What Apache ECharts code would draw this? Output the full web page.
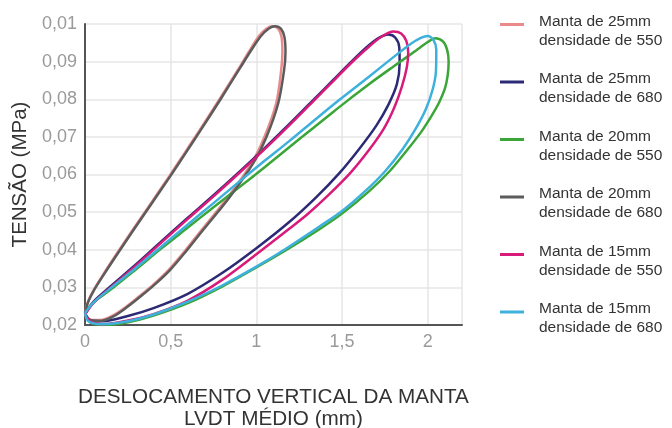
<!DOCTYPE html>
<html><head><meta charset="utf-8">
<script src="https://cdn.jsdelivr.net/npm/echarts@6/dist/echarts.min.js"></script>
<style>html,body{margin:0;padding:0;background:#fff}#c{width:672px;height:428px}</style>
</head><body><div id="c"></div>
<script>
const seriesNames = [
  'Manta de 25mm\ndensidade de 550',
  'Manta de 25mm\ndensidade de 680',
  'Manta de 20mm\ndensidade de 550',
  'Manta de 20mm\ndensidade de 680',
  'Manta de 15mm\ndensidade de 550',
  'Manta de 15mm\ndensidade de 680'
];
const xTickLabels = ['0', '0,5', '1', '1,5', '2'];
const yTickLabels = ['0,02', '0,03', '0,04', '0,05', '0,06', '0,07', '0,08', '0,09', '0,01'];

const manta25_550 = [[0,0.0235],[0.02,0.0265],[0.05,0.0293],[0.1,0.033],[0.18,0.0386],[0.28,0.0454],[0.39,0.0527],[0.494,0.0597],[0.58,0.0656],[0.669,0.0718],[0.785,0.08],[0.9,0.0884],[0.96,0.0929],[1.015,0.0968],[1.06,0.0988],[1.095,0.0994],[1.128,0.0987],[1.147,0.0965],[1.152,0.0925],[1.145,0.0878],[1.116,0.079],[1.048,0.0701],[0.972,0.063],[0.836,0.0541],[0.681,0.0453],[0.58,0.0395],[0.487,0.0346],[0.4,0.0308],[0.313,0.0275],[0.23,0.0245],[0.158,0.0224],[0.09,0.0213],[0.04,0.0213],[0.01,0.0222],[0,0.0235]];
const manta20_680 = [[0,0.0235],[0.022,0.0265],[0.053,0.0293],[0.104,0.033],[0.185,0.0386],[0.285,0.0454],[0.395,0.0527],[0.5,0.0597],[0.586,0.0656],[0.675,0.0718],[0.791,0.08],[0.906,0.0884],[0.968,0.0929],[1.027,0.0968],[1.073,0.0988],[1.11,0.0994],[1.144,0.0987],[1.164,0.0965],[1.17,0.0925],[1.162,0.0878],[1.128,0.079],[1.06,0.0701],[0.982,0.063],[0.846,0.0541],[0.69,0.0453],[0.588,0.0395],[0.496,0.0346],[0.408,0.0308],[0.322,0.0275],[0.238,0.0245],[0.166,0.0223],[0.095,0.0211],[0.045,0.0211],[0.012,0.022],[0,0.0235]];
const manta25_680 = [[0,0.023],[0.05,0.0262],[0.15,0.0303],[0.3,0.0362],[0.45,0.0424],[0.6,0.0485],[0.75,0.0545],[0.9,0.0607],[1.05,0.0671],[1.19,0.0733],[1.33,0.0797],[1.45,0.0852],[1.55,0.0898],[1.64,0.0937],[1.71,0.0962],[1.77,0.0972],[1.81,0.0964],[1.834,0.0938],[1.836,0.0895],[1.82,0.084],[1.77,0.0785],[1.7,0.073],[1.6,0.0668],[1.483,0.0603],[1.35,0.054],[1.19,0.0473],[1.0,0.0404],[0.8,0.0338],[0.6,0.0283],[0.4,0.0245],[0.25,0.0224],[0.1,0.021],[0.03,0.0213],[0,0.023]];
const manta15_550 = [[0,0.0228],[0.05,0.0259],[0.15,0.03],[0.3,0.0359],[0.45,0.0421],[0.6,0.0482],[0.75,0.0542],[0.9,0.0604],[1.05,0.0668],[1.19,0.073],[1.33,0.0794],[1.45,0.0849],[1.55,0.0895],[1.65,0.0937],[1.73,0.0966],[1.8,0.098],[1.845,0.0975],[1.875,0.0955],[1.886,0.0925],[1.878,0.0885],[1.85,0.0835],[1.805,0.0778],[1.744,0.0722],[1.657,0.0665],[1.55,0.0605],[1.42,0.0545],[1.3,0.0495],[1.19,0.0455],[1.0,0.0388],[0.8,0.032],[0.6,0.0265],[0.4,0.0229],[0.25,0.0212],[0.1,0.0202],[0.03,0.021],[0,0.0228]];
const manta15_680 = [[0,0.0232],[0.05,0.026],[0.15,0.0298],[0.3,0.0353],[0.45,0.041],[0.6,0.0467],[0.75,0.0524],[0.9,0.0581],[1.05,0.0637],[1.19,0.0688],[1.33,0.0741],[1.483,0.0798],[1.657,0.086],[1.8,0.0912],[1.9,0.0947],[1.96,0.0963],[2.0,0.0968],[2.033,0.0958],[2.05,0.0932],[2.048,0.0875],[2.03,0.0828],[1.99,0.0775],[1.93,0.0722],[1.85,0.0665],[1.75,0.0608],[1.638,0.0557],[1.5,0.0503],[1.366,0.0461],[1.17,0.0402],[1.0,0.0355],[0.8,0.0305],[0.6,0.0262],[0.4,0.0228],[0.25,0.021],[0.1,0.0202],[0.02,0.021],[0,0.0232]];
const manta20_550 = [[0,0.0232],[0.05,0.026],[0.15,0.0294],[0.3,0.0349],[0.45,0.0405],[0.6,0.0459],[0.75,0.0513],[0.9,0.0566],[1.05,0.062],[1.19,0.0672],[1.33,0.0723],[1.45,0.0767],[1.54,0.0799],[1.657,0.084],[1.8,0.0887],[1.93,0.0929],[2.0,0.0952],[2.045,0.0962],[2.09,0.0953],[2.113,0.0932],[2.122,0.09],[2.116,0.0862],[2.1,0.0828],[2.065,0.079],[2.025,0.0758],[1.96,0.0712],[1.88,0.0665],[1.78,0.061],[1.657,0.0555],[1.5,0.0496],[1.366,0.0454],[1.17,0.0398],[1.0,0.0353],[0.8,0.0302],[0.6,0.0258],[0.4,0.0225],[0.25,0.0207],[0.12,0.02],[0.03,0.0207],[0,0.0232]];

const seriesData = [manta25_550, manta25_680, manta20_550, manta20_680, manta15_550, manta15_680];
const colors = ['#e98b8b', '#2c2a74', '#3ba638', '#5c5c5c', '#d81b7a', '#3db1dc'];

const chart = echarts.init(document.getElementById('c'), null, {renderer: 'canvas'});
const font = '"Liberation Sans", Arial, sans-serif';
chart.setOption({
  animation: false,
  color: colors,
  grid: {left: 85, top: 24, right: 210, bottom: 103, containLabel: false, outerBoundsMode: 'none'},
  legend: {
    orient: 'vertical', left: 500, top: 12, padding: 0, itemGap: 19.5,
    icon: 'path://M0,0H24V3H0Z M0,16L0.01,16', itemWidth: 24, itemHeight: 16,
    textStyle: {fontFamily: font, fontSize: 15.5, color: '#333', lineHeight: 19, padding: [0, 0, 0, 10]},
    data: seriesNames
  },
  xAxis: {
    type: 'value', min: 0, max: 2.2, interval: 0.5,
    name: 'DESLOCAMENTO VERTICAL DA MANTA\nLVDT MÉDIO (mm)',
    nameLocation: 'middle', nameGap: 61,
    nameTextStyle: {fontFamily: font, fontSize: 20.7, color: '#333', lineHeight: 22},
    axisLine: {lineStyle: {color: '#555', width: 2}},
    axisTick: {show: false},
    axisLabel: {fontFamily: font, fontSize: 18, color: '#9a9a9a', margin: 8,
      formatter: v => { const i = Math.round(v / 0.5); return Math.abs(v - i * 0.5) < 1e-6 && i < xTickLabels.length ? xTickLabels[i] : ''; }},
    splitLine: {show: true, lineStyle: {color: '#e6e6e6', width: 1.5}}
  },
  yAxis: {
    type: 'value', min: 0.02, max: 0.1, interval: 0.01,
    name: 'TENSÃO (MPa)', nameLocation: 'middle', nameGap: 51,
    nameTextStyle: {fontFamily: font, fontSize: 20.5, color: '#333'},
    axisLine: {show: true, lineStyle: {color: '#555', width: 2}},
    axisTick: {show: false},
    axisLabel: {fontFamily: font, fontSize: 18, color: '#9a9a9a', margin: 8,
      formatter: v => yTickLabels[Math.round((v - 0.02) / 0.01)]},
    splitLine: {show: true, lineStyle: {color: '#e6e6e6', width: 1.5}}
  },
  series: seriesData.map((d, i) => ({
    name: seriesNames[i], type: 'line', data: d, smooth: 0.3,
    showSymbol: false, lineStyle: {width: 2.5, color: colors[i]}, itemStyle: {color: colors[i]}
  }))
});
</script></body></html>
